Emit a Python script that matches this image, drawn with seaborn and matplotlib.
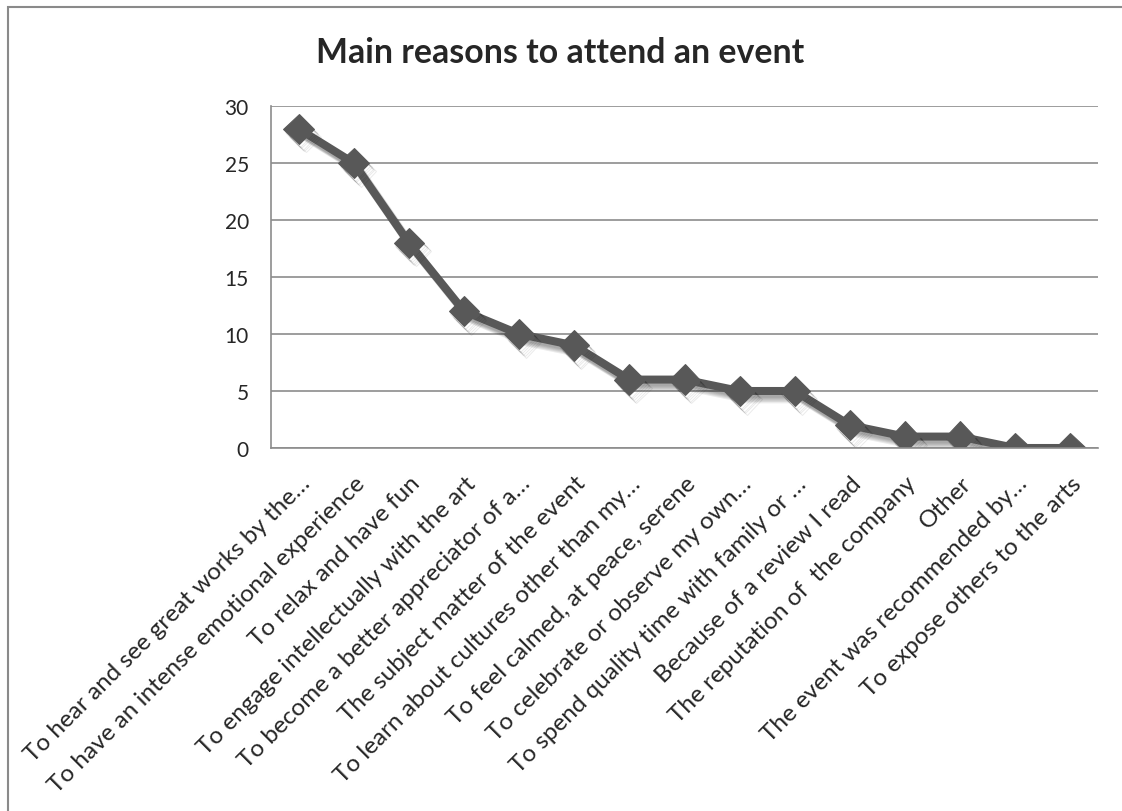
import matplotlib
matplotlib.use("Agg")
import matplotlib.pyplot as plt
import matplotlib.patheffects as pe
from matplotlib.transforms import ScaledTranslation
from matplotlib.patches import Rectangle
import seaborn as sns
import pandas as pd

reasons = [
    "To hear and see great works by the\u2026",
    "To have an intense emotional experience",
    "To relax and have fun",
    "To engage intellectually with the art",
    "To become a better appreciator of a\u2026",
    "The subject matter of the event",
    "To learn about cultures other than my\u2026",
    "To feel calmed, at peace, serene",
    "To celebrate or observe my own\u2026",
    "To spend quality time with family or \u2026",
    "Because of a review I read",
    "The reputation of  the company",
    "Other",
    "The event was recommended by\u2026",
    "To expose others to the arts",
]
counts = [28, 25, 18, 12, 10, 9, 6, 6, 5, 5, 2, 1, 1, 0, 0]
y_ticks = [0, 5, 10, 15, 20, 25, 30]
title = "Main reasons to attend an event"

sns.set_style("white")
plt.rcParams["font.family"] = ["Lato", "DejaVu Sans"]

df = pd.DataFrame({"pos": range(len(reasons)), "count": counts})

fig = plt.figure(figsize=(11.22, 8.12), dpi=100)
ax = fig.add_axes([271 / 1122, 1 - 449 / 812, (1098 - 271) / 1122, (449 - 107) / 812])

# soft drop shadow under the series line and markers
shadow = [pe.SimpleLineShadow(offset=(o, -o - 1), shadow_color="#000000", alpha=0.08)
          for o in (1, 2, 3, 4, 5)]
line_color = "#585858"
sns.lineplot(data=df, x="pos", y="count", ax=ax, color=line_color, linewidth=5.8,
             marker="D", markersize=15.5, markeredgecolor=line_color,
             markerfacecolor=line_color, sort=False,
             path_effects=shadow + [pe.Normal()])

ax.set_xlim(-0.5, len(reasons) - 0.5)
ax.set_ylim(0, 30)
ax.set_yticks(y_ticks)
ax.set_yticklabels([str(v) for v in y_ticks], fontsize=15)
ax.set_xlabel("")
ax.set_ylabel("")

grid_color = "#8c8c8c"
ax.yaxis.grid(True, color=grid_color, linewidth=1.2)
ax.xaxis.grid(False)
ax.set_axisbelow(True)
for side in ["top", "right"]:
    ax.spines[side].set_visible(False)
for side in ["left", "bottom"]:
    ax.spines[side].set_color(grid_color)
    ax.spines[side].set_linewidth(1.2)

ax.set_xticks(range(len(reasons)))
ax.set_xticks([i - 0.5 for i in range(len(reasons) + 1)], minor=True)
ax.tick_params(axis="x", which="major", length=0, pad=12)
ax.tick_params(axis="x", which="minor", length=6, width=1.2, color=grid_color, direction="out")
ax.tick_params(axis="y", length=6, width=1.2, color=grid_color, direction="out", pad=10)
ax.set_xticklabels(reasons, rotation=45, ha="right", va="center",
                   rotation_mode="anchor", fontsize=17.5)
shift = ScaledTranslation(8 / 100, -15 / 100, fig.dpi_scale_trans)
for lab in ax.get_xticklabels():
    lab.set_transform(lab.get_transform() + shift)

fig.text(560 / 1122, 1 - 63 / 812, title, ha="center", va="baseline",
         fontsize=24.4, fontweight="bold")

fig.patches.append(Rectangle((8 / 1122, -0.2), 2.0, 1 - 8 / 812 + 0.2,
                             transform=fig.transFigure, fill=False,
                             edgecolor="#8a8a8a", linewidth=1.5, zorder=0))

fig.savefig("out.png", dpi=100)
